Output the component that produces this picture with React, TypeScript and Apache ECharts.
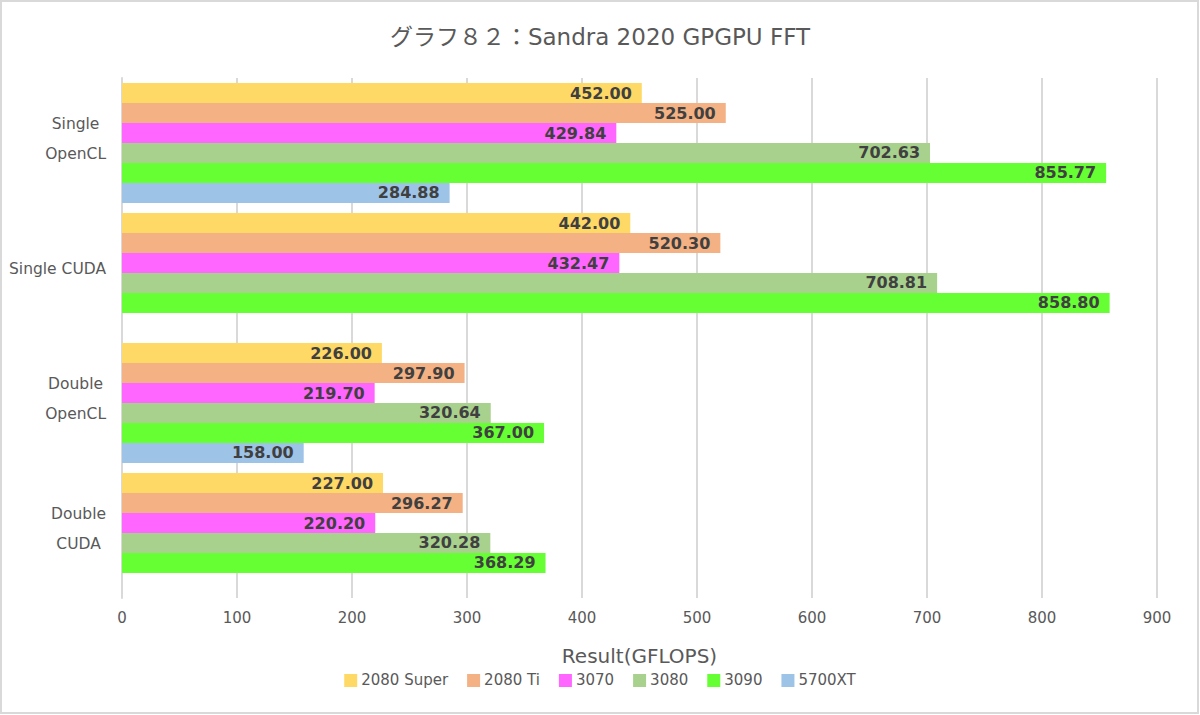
import React, { useEffect, useRef } from "react";
import * as echarts from "echarts";

const categories = ["Single\nOpenCL", "Single CUDA", "Double\nOpenCL", "Double\nCUDA"];
const seriesNames = ["2080 Super", "2080 Ti", "3070", "3080", "3090", "5700XT"];
const s2080Super = [452.0, 442.0, 226.0, 227.0];
const s2080Ti = [525.0, 520.3, 297.9, 296.27];
const s3070 = [429.84, 432.47, 219.7, 220.2];
const s3080 = [702.63, 708.81, 320.64, 320.28];
const s3090 = [855.77, 858.8, 367.0, 368.29];
const s5700XT = [284.88, null, 158.0, null];
const xTicks = [0, 100, 200, 300, 400, 500, 600, 700, 800, 900];

const colors = ["#FFD966", "#F4B183", "#FF66FF", "#A9D18E", "#66FF33", "#9DC3E6"];
const FONT = "'DejaVu Sans', 'Noto Sans CJK JP', sans-serif";

export default function App() {
  const ref = useRef<HTMLDivElement>(null);
  useEffect(() => {
    document.body.style.margin = "0";
    const chart = echarts.init(ref.current!, null, { renderer: "svg" });
    const all = [s2080Super, s2080Ti, s3070, s3080, s3090, s5700XT];
    chart.setOption({
      animation: false,
      backgroundColor: "#ffffff",
      textStyle: { fontFamily: FONT },
      title: {
        text: "グラフ８２：Sandra 2020 GPGPU FFT",
        left: "center",
        top: 20,
        textStyle: { fontFamily: FONT, fontSize: 23, fontWeight: "normal", color: "#595959" },
      },
      graphic: [
        {
          type: "rect",
          shape: { x: 1, y: 1, width: 1197, height: 712 },
          style: { fill: "none", stroke: "#d9d9d9", lineWidth: 2 },
          silent: true,
        },
      ],
      legend: {
        bottom: 22,
        left: "center",
        itemWidth: 13,
        itemHeight: 13,
        itemGap: 19,
        icon: "rect",
        data: seriesNames,
        textStyle: { fontFamily: FONT, fontSize: 15, color: "#595959", padding: [0, 0, 0, -1] },
      },
      grid: { left: 122, right: 43, top: 78, bottom: 117, containLabel: false },
      xAxis: {
        type: "value",
        min: xTicks[0],
        max: xTicks[xTicks.length - 1],
        interval: 100,
        name: "Result(GFLOPS)",
        nameLocation: "middle",
        nameGap: 48,
        nameTextStyle: { fontFamily: FONT, fontSize: 20, color: "#595959" },
        axisLine: { show: false },
        axisTick: { show: false },
        axisLabel: { fontFamily: FONT, fontSize: 15, color: "#595959", margin: 12 },
        splitLine: { show: true, lineStyle: { color: "#d9d9d9", width: 2 } },
      },
      yAxis: {
        type: "category",
        inverse: true,
        data: categories,
        axisLine: { show: true, lineStyle: { color: "#d9d9d9", width: 2 } },
        axisTick: { show: false },
        axisLabel: {
          fontFamily: FONT,
          fontSize: 15.5,
          color: "#595959",
          margin: 16,
          lineHeight: 30,
          align: "right",
          padding: [0, 0, 8, 0],
          formatter: (v: string) =>
            v
              .split("\n")
              .map((s) => `{c|${s}}`)
              .join("\n"),
          rich: {
            c: {
              align: "center",
              fontFamily: FONT,
              fontSize: 15.5,
              color: "#595959",
              lineHeight: 30,
            },
          },
        },
      },
      series: seriesNames.map((name, i) => ({
        name,
        type: "bar",
        data: all[i],
        barGap: "0%",
        barCategoryGap: "7.7%",
        itemStyle: { color: colors[i] },
        label: {
          show: true,
          position: "insideRight",
          distance: 10,
          formatter: (p: any) => (p.value == null ? "" : Number(p.value).toFixed(2)),
          fontFamily: FONT,
          fontSize: 16,
          fontWeight: "bold",
          color: "#404040",
        },
      })),
    });
    return () => chart.dispose();
  }, []);
  return <div ref={ref} style={{ width: 1200, height: 715 }} />;
}
